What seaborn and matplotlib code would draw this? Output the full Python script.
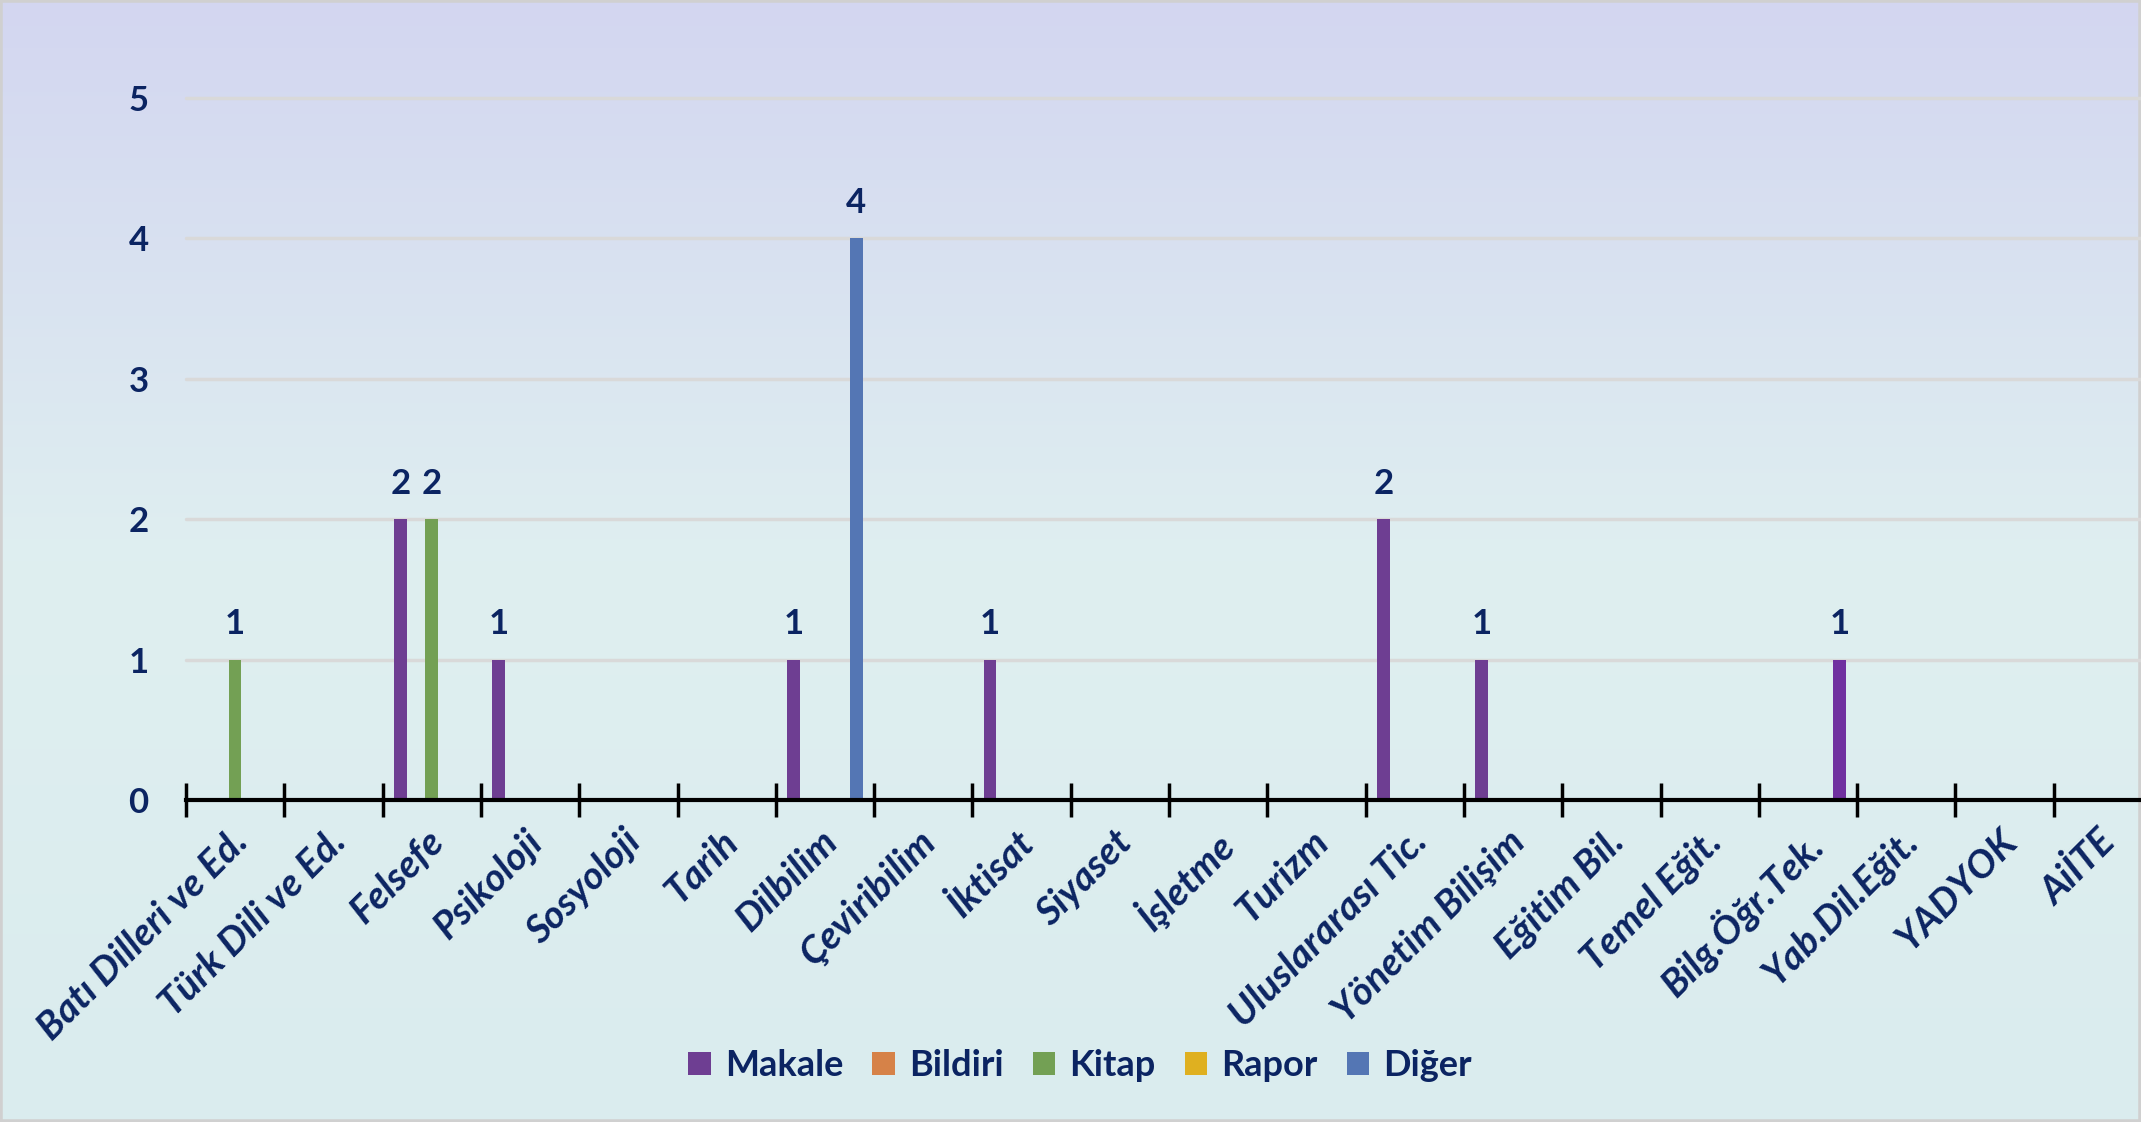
import numpy as np
import pandas as pd
import matplotlib
matplotlib.use("Agg")
import matplotlib.pyplot as plt
import matplotlib.transforms as mtransforms
from matplotlib.colors import LinearSegmentedColormap
from matplotlib.patches import Rectangle
import seaborn as sns

categories = ["Batı Dilleri ve Ed.", "Türk Dili ve Ed.", "Felsefe", "Psikoloji", "Sosyoloji",
              "Tarih", "Dilbilim", "Çeviribilim", "İktisat", "Siyaset", "İşletme", "Turizm",
              "Uluslararası Tic.", "Yönetim Bilişim", "Eğitim Bil.", "Temel Eğit.",
              "Bilg.Öğr.Tek.", "Yab.Dil.Eğit.", "YADYOK", "AiİTE"]
series = ["Makale", "Bildiri", "Kitap", "Rapor", "Diğer"]
makale  = [0, 0, 2, 1, 0, 0, 1, 0, 1, 0, 0, 0, 2, 1, 0, 0, 0, 0, 0, 0]
bildiri = [0] * 20
kitap   = [1, 0, 2, 0, 0, 0, 0, 0, 0, 0, 0, 0, 0, 0, 0, 0, 0, 0, 0, 0]
rapor   = [0] * 20
diger   = [0, 0, 0, 0, 0, 0, 4, 0, 0, 0, 0, 0, 0, 0, 0, 0, 1, 0, 0, 0]
# in the source chart the "Diğer" bar of Bilg.Öğr.Tek. is drawn in the Makale colour
purple_diger = ["Bilg.Öğr.Tek."]
y_ticks = [0, 1, 2, 3, 4, 5]
colors = ["#7030A0", "#ED7D31", "#70AD47", "#FFC000", "#4472C4"]

values = [makale, bildiri, kitap, rapor, diger]
rows = []
for s, vals in zip(series, values):
    for c, v in zip(categories, vals):
        rows.append({"Bölüm": c, "Tür": s, "Sayı": v})
df = pd.DataFrame(rows)

sns.set_theme(style="white")
plt.rcParams["font.family"] = ["Lato", "DejaVu Sans"]
navy = "#0B2462"

W, H = 2141, 1122
fig = plt.figure(figsize=(W / 100, H / 100), dpi=100)

# background gradient
bg = fig.add_axes([0, 0, 1, 1], zorder=-10)
cmap = LinearSegmentedColormap.from_list("bg", [(0, "#D3D6F0"), (0.5, "#DFEFF0"), (1, "#DAECEE")])
grad = np.linspace(0, 1, 256).reshape(-1, 1)
bg.imshow(grad, aspect="auto", cmap=cmap, extent=[0, 1, 1, 0])
bg.set_xlim(0, 1)
bg.set_ylim(1, 0)
bg.add_patch(Rectangle((0, 0), 1, 1, fill=False, edgecolor="#D0D0D0", lw=4, transform=bg.transAxes))
bg.set_axis_off()

ax_left = 186 / W
ax_w = 20 * 98.3 / W
ax_bottom = 1 - 800 / H
ax_h = (800 - 98) / H
ax = fig.add_axes([ax_left, ax_bottom, ax_w, ax_h])
ax.set_facecolor("none")

sns.barplot(data=df, x="Bölüm", y="Sayı", hue="Tür", order=categories, hue_order=series,
            palette=colors, width=0.8, gap=0.2, linewidth=0, ax=ax, legend=True, zorder=3)

for i, c in enumerate(categories):
    if c in purple_diger:
        ax.containers[4][i].set_facecolor(colors[0])

for cont, vals in zip(ax.containers, values):
    labels = [str(v) if v > 0 else "" for v in vals]
    ax.bar_label(cont, labels=labels, padding=14, fontsize=25, fontweight="bold", color=navy)

ax.set_xlim(-0.5, len(categories) - 0.5)
ax.set_ylim(0, 5)
ax.set_yticks(y_ticks)
ax.set_yticklabels([str(t) for t in y_ticks], fontsize=25, fontweight="bold", color=navy)
ax.tick_params(axis="y", length=0, pad=27)
for t in y_ticks[1:]:
    ax.axhline(t, color="#D9D9D9", lw=2.5, zorder=1, clip_on=False)

ax.set_xticks(range(len(categories)))
ax.set_xticklabels(categories, fontsize=28, fontweight="bold", fontstyle="italic", color=navy,
                   rotation=45, ha="right", va="top", rotation_mode="anchor")
ax.tick_params(axis="x", which="major", length=0, pad=17)
ax.set_xticks(np.arange(-0.5, len(categories), 1), minor=True)
ax.tick_params(axis="x", which="minor", bottom=True, direction="inout", length=24, width=2.5,
               color="black")
offset = mtransforms.ScaledTranslation(-6 / 100, 0, fig.dpi_scale_trans)
for lbl in ax.get_xticklabels():
    lbl.set_transform(lbl.get_transform() + offset)

for side in ["left", "right", "top"]:
    ax.spines[side].set_visible(False)
ax.spines["bottom"].set_color("black")
ax.spines["bottom"].set_linewidth(3)
ax.spines["bottom"].set_zorder(4)
ax.set_xlabel("")
ax.set_ylabel("")

handles, labels = ax.get_legend_handles_labels()
ax.get_legend().remove()
leg = fig.legend(handles, labels, loc="center", bbox_to_anchor=(0.5045, 0.05), ncol=5,
                 frameon=False, fontsize=26, handlelength=0.62, handleheight=0.62,
                 handletextpad=0.4, columnspacing=0.8)
for t in leg.get_texts():
    t.set_color(navy)
    t.set_fontweight("bold")

fig.savefig("out.png", dpi=100)
